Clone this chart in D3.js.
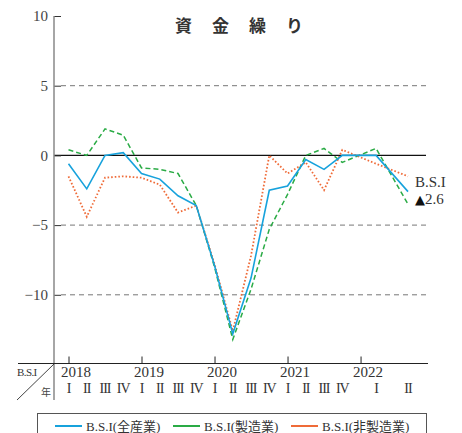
<!DOCTYPE html>
<html>
<head>
<meta charset="utf-8">
<script src="https://cdn.jsdelivr.net/npm/d3@7"></script>
<style>
  body { margin: 0; background: #fff; }
  svg { display: block; }
</style>
</head>
<body>
<div id="chart"></div>
<script>
// quarter index of every survey period (2022 is plotted off the quarter grid)
const periodPos = [0, 1, 2, 3, 4, 5, 6, 7, 8, 9, 10, 11, 12, 13, 14, 15, 16.85, 18.6];
const periodLabels = ['I', 'II', 'III', 'IV', 'I', 'II', 'III', 'IV', 'I', 'II', 'III', 'IV',
  'I', 'II', 'III', 'IV', 'I', 'II'];
const years = ['2018', '2019', '2020', '2021', '2022'];
const yearPos = [0, 4, 8, 12, 16];
const yTicks = [10, 5, 0, -5, -10];

const allIndustry = [-0.6, -2.4, 0.0, 0.2, -1.3, -1.7, -2.9, -3.6, -7.9, -12.8, -8.8, -2.5,
  -2.2, -0.3, -1.0, 0.0, 0.0, -2.6];
const manufacturing = [0.4, 0.0, 1.9, 1.45, -0.9, -1.0, -1.3, -3.6, -8.0, -13.2, -9.6, -5.3,
  -2.8, 0.0, 0.5, -0.5, 0.5, -3.5];
const nonManufacturing = [-1.5, -4.4, -1.6, -1.5, -1.6, -2.1, -4.1, -3.6, -7.8, -12.6, -7.2, 0.0,
  -1.3, -0.5, -2.5, 0.4, -0.6, -1.5];

const seriesNames = ['B.S.I(全産業)', 'B.S.I(製造業)', 'B.S.I(非製造業)'];

const W = 462, H = 433;
const serif = "'Liberation Serif', 'Noto Sans CJK JP', serif";
const cjk = "'Noto Sans CJK JP', sans-serif";

const svg = d3.select('#chart').append('svg')
  .attr('width', W).attr('height', H);

const x = d3.scaleLinear().domain([0, 15]).range([68.5, 342.3]);
const y = d3.scaleLinear().domain([-15, 10]).range([364.5, 16]);
const axisX = 54, right = 426;

// gridlines
svg.append('g').selectAll('line')
  .data(yTicks.filter(d => d !== 10))
  .enter().append('line')
  .attr('x1', d => d === 0 ? axisX : axisX + 7)
  .attr('x2', right)
  .attr('y1', d => y(d)).attr('y2', d => y(d))
  .attr('stroke', d => d === 0 ? '#111' : '#777')
  .attr('stroke-width', d => d === 0 ? 1.2 : 1)
  .attr('stroke-dasharray', d => d === 0 ? null : '5,4');

// y axis
const gy = svg.append('g')
  .attr('transform', `translate(${axisX},0)`)
  .call(d3.axisLeft(y).tickValues(yTicks).tickSizeInner(-7).tickSizeOuter(0)
    .tickPadding(6).tickFormat(d => d < 0 ? '−' + Math.abs(d) : d));
gy.select('.domain').remove();
gy.selectAll('.tick line').attr('stroke', '#333');
gy.selectAll('.tick text')
  .attr('font-family', serif).attr('font-size', 15).attr('fill', '#444');
svg.append('line')
  .attr('x1', axisX).attr('x2', axisX)
  .attr('y1', y(10)).attr('y2', 400)
  .attr('stroke', '#888').attr('stroke-width', 1.5);

// x axis
const gx = svg.append('g')
  .attr('transform', `translate(0,${y(-15) - 1})`)
  .call(d3.axisBottom(x).tickValues(yearPos).tickSizeInner(-7).tickSizeOuter(0)
    .tickPadding(3).tickFormat((d, i) => years[i]));
gx.select('.domain').remove();
gx.selectAll('.tick line').attr('stroke', '#222');
gx.selectAll('.tick text')
  .attr('text-anchor', 'start').attr('x', -8)
  .attr('font-family', serif).attr('font-size', 15).attr('fill', '#333');
svg.append('line')
  .attr('x1', 18).attr('x2', 428)
  .attr('y1', y(-15) - 1).attr('y2', y(-15) - 1)
  .attr('stroke', '#222').attr('stroke-width', 1.2);

svg.append('g').selectAll('text')
  .data(periodLabels)
  .enter().append('text')
  .attr('x', (d, i) => x(periodPos[i]))
  .attr('y', 393)
  .attr('text-anchor', 'middle')
  .attr('font-family', serif).attr('font-size', 14)
  .attr('letter-spacing', -1)
  .attr('fill', '#333')
  .text(d => d);

// corner label
svg.append('line')
  .attr('x1', 17).attr('y1', 400).attr('x2', axisX).attr('y2', 364)
  .attr('stroke', '#444').attr('stroke-width', 1);
svg.append('text')
  .attr('x', 17).attr('y', 376)
  .attr('font-family', serif).attr('font-size', 11).attr('letter-spacing', -0.6)
  .attr('fill', '#333').text('B.S.I');
svg.append('text')
  .attr('x', 46).attr('y', 396).attr('text-anchor', 'middle')
  .attr('font-family', cjk).attr('font-size', 10).attr('fill', '#444').text('年');

// title
svg.append('text')
  .attr('x', 175).attr('y', 32)
  .attr('font-family', cjk).attr('font-size', 17).attr('font-weight', 'bold')
  .attr('letter-spacing', 20).attr('fill', '#333')
  .text('資金繰り');

// lines
const series = [
  { name: seriesNames[1], values: manufacturing, color: '#2aab45', dash: '5,3', w: 1.5 },
  { name: seriesNames[2], values: nonManufacturing, color: '#ef6b38', dash: '1.6,2', w: 1.8 },
  { name: seriesNames[0], values: allIndustry, color: '#17a2dc', dash: null, w: 1.6 }
];
const line = d3.line().x((d, i) => x(periodPos[i])).y(d => y(d));
svg.append('g').selectAll('path')
  .data(series)
  .enter().append('path')
  .attr('d', d => line(d.values))
  .attr('fill', 'none')
  .attr('stroke', d => d.color)
  .attr('stroke-width', d => d.w)
  .attr('stroke-dasharray', d => d.dash);

// end annotation
const last = allIndustry[allIndustry.length - 1];
svg.append('text')
  .attr('x', 415).attr('y', 187)
  .attr('font-family', serif).attr('font-size', 15).attr('fill', '#333')
  .text('B.S.I');
const ann = svg.append('text')
  .attr('x', 415).attr('y', 204)
  .attr('font-family', serif).attr('font-size', 15).attr('fill', '#333');
ann.append('tspan')
  .attr('font-family', "'DejaVu Sans', sans-serif").attr('font-size', 13).attr('fill', '#111')
  .text('▲');
ann.append('tspan').text(Math.abs(last));

// legend
svg.append('rect')
  .attr('x', 37.5).attr('y', 413.5).attr('width', 389).attr('height', 40)
  .attr('fill', 'none').attr('stroke', '#555').attr('stroke-width', 1);
const legendItems = [
  { name: seriesNames[0], color: '#17a2dc', x: 55 },
  { name: seriesNames[1], color: '#2aab45', x: 173 },
  { name: seriesNames[2], color: '#ef6b38', x: 291 }
];
const lg = svg.append('g').selectAll('g')
  .data(legendItems)
  .enter().append('g')
  .attr('transform', d => `translate(${d.x},426)`);
lg.append('line')
  .attr('x1', 0).attr('x2', 27)
  .attr('stroke', d => d.color).attr('stroke-width', 2);
lg.append('text')
  .attr('x', 31).attr('y', 5)
  .attr('font-family', serif).attr('font-size', 13).attr('fill', '#333')
  .text(d => d.name);
</script>
</body>
</html>
